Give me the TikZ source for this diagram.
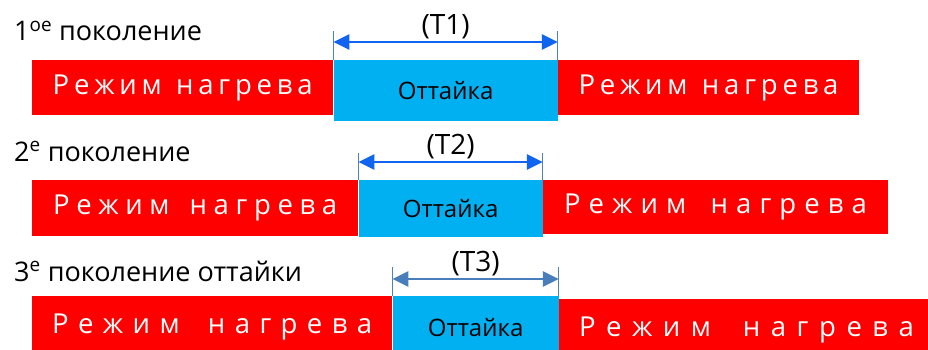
\documentclass[tikz,border=0pt]{standalone}
\usepackage{fontspec}
\setmainfont{Open Sans}
\usepackage{tikz}
\usetikzlibrary{positioning}
\usetikzlibrary{arrows.meta}
\usetikzlibrary{calc}
\definecolor{Hcol}{RGB}{255,0,0}
\definecolor{Dcol}{RGB}{0,176,240}
\definecolor{Acol}{RGB}{16,100,240}
\definecolor{Bcol}{RGB}{74,126,187}
\definecolor{Tcol}{RGB}{79,129,189}
\newcommand{\heatlabel}[1]{\makebox[#1][s]{Р\hfill е\hfill ж\hfill и\hfill м\hfill\hfill\hfill н\hfill а\hfill г\hfill р\hfill е\hfill в\hfill а}}
\tikzstyle{bar}=[rectangle, inner sep=0pt, anchor=north west]
\tikzstyle{heat}=+[bar, fill=Hcol, text=white, font=\fontsize{27.5}{32}\selectfont]
\tikzstyle{defrost}=+[bar, fill=Dcol, text=black, font=\fontsize{24}{28}\selectfont]
\tikzstyle{title}=[anchor=base west, inner sep=0pt, font=\fontsize{27}{32}\selectfont]
\tikzstyle{tick}=[line width=1.2pt, draw=Tcol]
\tikzstyle{span}=[<->, >={Triangle[length=16pt,width=15pt]}, line width=2.8pt]
\tikzstyle{spanlabel}=[above, inner sep=2pt, font=\fontsize{28}{32}\selectfont, text=black]
\begin{document}
\begin{tikzpicture}[x=1pt, y=-1pt]
	\useasboundingbox (0,0) rectangle (928,350);
	% generation 1
	\node (title1) at (14,41) [title] {1\textsuperscript{ое} поколение};
	\node (heat11) at (32,60) [heat, minimum width=301pt, minimum height=55pt] {\heatlabel{260pt}};
	\node (defrost1) at (heat11.north east) [defrost, minimum width=224pt, minimum height=61pt] {Оттайка};
	\node (heat12) at (defrost1.north east) [heat, minimum width=301pt, minimum height=55pt] {\heatlabel{260pt}};
	% generation 2
	\node (title2) at (14,161) [title] {2\textsuperscript{е} поколение};
	\node (heat21) at (32,180) [heat, minimum width=326pt, minimum height=56pt] {\heatlabel{284pt}};
	\node (defrost2) at (heat21.north east) [defrost, minimum width=184pt, minimum height=57pt] {Оттайка};
	\node (heat22) at (defrost2.north east) [heat, minimum width=345pt, minimum height=54pt] {\heatlabel{303pt}};
	% generation 3
	\node (title3) at (14,281) [title] {3\textsuperscript{е} поколение оттайки};
	\node (heat31) at (32,296) [heat, minimum width=360pt, minimum height=62pt] {\heatlabel{320pt}};
	\node (defrost3) at (heat31.north east) [defrost, minimum width=166pt, minimum height=62pt] {Оттайка};
	\node (heat32) at ([yshift=-3pt]defrost3.north east) [heat, minimum width=375pt, minimum height=62pt] {\heatlabel{335pt}};
	% span marks
	\coordinate (t1l) at ([yshift=29pt]defrost1.north west);
	\coordinate (t1r) at ([yshift=29pt]defrost1.north east);
	\coordinate (a1l) at ([yshift=18pt]defrost1.north west);
	\coordinate (a1r) at ([yshift=18pt]defrost1.north east);
	\coordinate (t2l) at ([yshift=27pt]defrost2.north west);
	\coordinate (t2r) at ([yshift=27pt]defrost2.north east);
	\coordinate (a2l) at ([yshift=18pt]defrost2.north west);
	\coordinate (a2r) at ([yshift=18pt]defrost2.north east);
	\coordinate (t3l) at ([yshift=29pt]defrost3.north west);
	\coordinate (t3r) at ([yshift=29pt]defrost3.north east);
	\coordinate (a3l) at ([yshift=17pt]defrost3.north west);
	\coordinate (a3r) at ([yshift=17pt]defrost3.north east);
	\path[tick]
		(defrost1.north west) edge (t1l)
		(defrost1.north east) edge (t1r)
		(defrost2.north west) edge (t2l)
		(defrost2.north east) edge (t2r)
		(defrost3.north west) edge (t3l)
		(defrost3.north east) edge (t3r);
	\path[span, Acol]
		(a1l) edge node [spanlabel] {(T1)} (a1r)
		(a2l) edge node [spanlabel] {(T2)} (a2r);
	\path[span, Bcol]
		(a3l) edge node [spanlabel] {(T3)} (a3r);
\end{tikzpicture}
\end{document}
